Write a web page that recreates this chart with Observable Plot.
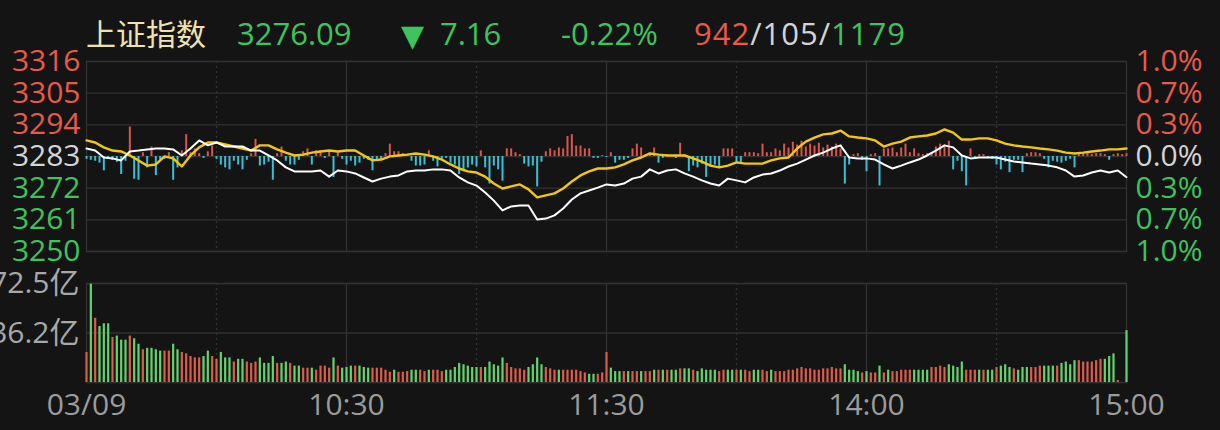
<!DOCTYPE html>
<html>
<head>
<meta charset="utf-8">
<script src="https://cdn.jsdelivr.net/npm/d3@7"></script>
<script src="https://cdn.jsdelivr.net/npm/@observablehq/plot@0.6"></script>
<style>
html,body{margin:0;padding:0;background:#141414;width:1220px;height:430px;overflow:hidden;}
#chart{position:relative;width:1220px;height:430px;}
#chart svg{display:block;position:absolute;left:0;}
</style>
</head>
<body>
<div id="chart"></div>
<script>
// ---------------- data ----------------
const indexName = "上证指数";
const lastPrice = 3276.09;
const change = -7.16;
const changePct = -0.22;
const advancers = 942;
const unchanged = 105;
const decliners = 1179;
const preClose = 3283.25;

const timeLabels = ["03/09", "10:30", "11:30", "14:00", "15:00"];
const timeLabelMinutes = [0, 60, 120, 180, 240];
const gridMinutesSolid = [60, 120, 180];
const gridMinutesDotted = [30, 90, 150, 210];

// index price, one value every 2 minutes (minute 0,2,...,240)
const price2m = [
  3286.0,3285.3,3282.9,3282.6,3281.9,3285.0,3285.3,3285.7,3286.0,3286.0,
  3285.7,3283.6,3286.0,3288.8,3287.1,3288.1,3286.7,3286.7,3286.7,3285.3,
  3285.3,3283.6,3281.9,3279.5,3278.1,3278.1,3278.1,3278.4,3276.3,3278.4,
  3278.1,3277.4,3276.0,3274.6,3275.6,3276.3,3276.7,3278.1,3278.4,3278.4,
  3278.8,3278.8,3278.4,3276.0,3274.3,3273.2,3270.8,3268.0,3264.6,3266.0,
  3266.3,3266.3,3261.5,3261.8,3262.9,3265.3,3268.4,3270.5,3271.5,3272.5,
  3273.6,3273.2,3273.9,3275.6,3276.3,3278.8,3277.4,3278.4,3278.8,3277.4,
  3276.3,3275.0,3273.9,3273.2,3275.6,3275.0,3274.3,3276.0,3277.0,3277.4,
  3278.4,3279.8,3280.8,3282.2,3283.6,3284.6,3286.0,3287.1,3282.9,3282.6,
  3282.6,3282.2,3280.5,3279.1,3280.1,3281.2,3282.2,3283.6,3285.3,3287.1,
  3286.4,3283.6,3282.6,3282.9,3282.9,3282.9,3282.2,3281.5,3281.2,3280.8,
  3280.5,3280.1,3279.5,3278.4,3276.3,3276.7,3277.7,3278.4,3277.7,3278.4,
  3276.09
];

// yellow line, one value every 2 minutes
const avg2m = [
  3288.8,3288.1,3286.4,3285.3,3285.0,3283.6,3281.9,3280.1,3280.5,3283.3,
  3282.6,3279.8,3283.6,3286.4,3288.1,3288.1,3287.4,3286.7,3286.0,3285.3,
  3287.1,3287.1,3285.7,3284.6,3283.6,3283.9,3284.6,3285.0,3285.3,3285.0,
  3285.3,3285.3,3283.6,3281.9,3282.2,3283.3,3283.6,3283.9,3284.3,3283.9,
  3283.3,3282.2,3280.5,3279.1,3278.1,3277.7,3276.3,3273.9,3272.2,3272.9,
  3273.6,3271.9,3269.1,3269.8,3270.5,3272.2,3274.6,3276.7,3278.1,3279.1,
  3279.1,3279.5,3280.5,3281.9,3282.9,3284.3,3283.9,3283.6,3283.6,3283.6,
  3282.6,3281.5,3280.1,3279.5,3280.1,3281.2,3280.8,3280.8,3280.8,3281.9,
  3282.6,3282.9,3286.0,3288.4,3289.8,3290.9,3291.2,3292.2,3290.2,3289.8,
  3289.5,3288.8,3286.7,3287.7,3288.4,3289.8,3290.2,3290.5,3291.2,3292.6,
  3291.5,3289.1,3289.1,3289.5,3289.5,3288.8,3287.7,3287.1,3286.7,3286.4,
  3286.0,3285.7,3285.3,3284.6,3284.3,3284.6,3285.0,3285.3,3285.7,3285.7,
  3286.0
];

// per-minute breadth bars in basis points of pre-close (+ red up, - cyan down)
const breadthBp = [
  -3,-4,-5,-7,-15,-3,-4,-6,-19,-5,
  31,-24,-25,4,-12,10,-20,-4,-3,4,
  -25,-12,6,23,4,8,3,-2,5,11,
  -3,-9,-12,-14,-5,-9,-14,-4,3,18,
  -10,-9,-6,-25,3,10,-5,-9,-9,-4,
  5,8,-9,6,6,-2,5,-22,5,-3,
  -9,-5,-10,-7,-3,-4,-15,-3,-4,3,
  13,5,5,3,2,-5,-10,-10,-9,6,
  -5,-11,-3,-2,-7,-9,-19,-14,-12,-9,
  -11,6,-12,-29,-10,-14,-26,8,8,4,
  2,-8,-11,-10,-32,-6,5,8,6,9,
  8,21,23,11,11,8,8,-2,-2,1,
  -1,4,-7,-4,-4,-2,8,13,9,2,
  3,9,-7,-2,2,1,-2,14,2,-16,
  -10,-12,-8,-22,-11,-9,-11,8,8,8,
  -7,-7,4,4,4,3,13,4,4,8,
  6,13,9,15,12,16,10,13,11,14,
  9,12,10,13,8,-29,-9,2,3,-4,
  -16,2,3,-31,8,8,9,4,9,13,
  4,8,3,2,3,4,10,13,11,16,
  -14,-5,-16,-31,8,-3,2,2,-2,-3,
  -9,-14,-6,-17,-4,-4,-17,3,4,4,
  3,-3,-12,-5,-6,-7,-5,-3,-12,3,
  3,3,2,3,3,2,-4,2,3,2,
  3
];

// per-minute turnover, 亿
const volumeYi = [
  22,72,47,41,43,43,33,34,31,31,
  34,32,28,24,25,25,24,23,23,23,
  28,24,22,21,19,18,18,19,23,19,
  17,22,18,18,15,17,17,15,14,15,
  18,14,14,19,14,14,15,14,12,12,
  10.5,10.5,10.5,9,12,12,10.5,18,12,10.5,
  11,12,12,12,11,10.5,10.5,10.5,10.5,9,
  7.5,9,7.5,7.5,8,9,9,9,8,9,
  9,9,8,9,9,11,14,13,12,11,
  11,11,11,15,13,12,18,14,11,10,
  10,9,11,13,18,13,11,10,9,9,
  9,9,9,9,8,7,6,6,6,7,
  22,10.5,8,8,8,8,8,8,8,8,
  8,9,9,9,9,9,9,10,10,10,
  9,8,10,9,9,9,8,9,9,9,
  9,9,9,8,9,9,9,8,9,8,
  8,8,9,9,10,11,10,10,9,9,
  10,10,11,10,10,13,9,9,8,7,
  8,7,7,12,7,9,8,8,9,9,
  9,9,9,9,9,11,11,12,11,13,
  12,11,15,9,9,9,9,9,9,9,
  11,12,13,11,10,9,11,11,11,11,
  12,12,12,12,12,14,15,13,16,16,
  15,15,15,16,17,17,19,21,1.5,0,
  38
];

// per-minute direction: r = up minute, g = down minute
const volumeDirection = (
  "rgrgggrggg" + "rggrggggrr" + "ggrrrrrggr" + "rgggrggrrr" + "ggggrggrgg" +
  "rrgrrrrgrg" + "ggrgggrrrr" + "rgrrrggrrg" + "rrrggggggg" + "grgggggrrr" +
  "rrggggrrrg" + "rrrrrrggrr" + "rgggrgrrgr" + "rgrgrggrgg" + "rgggggrrgg" +
  "rgrrggrrgr" + "rrrrrrrrrr" + "rrrrrggggr" + "grrgrgrrrr" + "rggggrrrrg" +
  "gggrrrgrgg" + "rgggrgggrr" + "rgggrggggr" + "rrrrrgggrr" + "g"
).split("");

const volumeMax = 72.5;

// ---------------- styles ----------------
const gridC = "#313131";
const upText = "#e85a4a";
const downText = "#3dc45c";
const flatText = "#d4d4d4";
const axisGrey = "#9c9c9c";
const font = "'Open Sans','Noto Sans CJK SC',sans-serif";

const chart = document.getElementById("chart");

// ---------------- price pane ----------------
const lineData = price2m.map((p, k) => ({t: k * 2, price: p, avg: avg2m[k]}));
const barData = breadthBp.map((b, i) => ({t: i, b}));
const yLo = preClose * 0.99, yHi = preClose * 1.01;
const steps = d3.range(-3, 4);
const priceTicks = steps.map(k => ({k, v: preClose * (1 + k / 300)}));
const tickColor = k => k > 0 ? upText : k < 0 ? downText : flatText;

const priceMarks = [
  Plot.ruleY(priceTicks, {y: "v", stroke: gridC, strokeWidth: 1.3}),
  Plot.ruleX(gridMinutesSolid, {stroke: gridC, strokeWidth: 1.3}),
  Plot.ruleX(gridMinutesDotted, {stroke: gridC, strokeWidth: 1.3, strokeDasharray: "2,3"}),
  Plot.frame({stroke: gridC, strokeWidth: 1.3}),
  Plot.ruleX(barData.filter(d => d.b > 0), {x: "t", y1: preClose, y2: d => preClose * (1 + d.b / 10000), stroke: "#d9564b", strokeWidth: 2}),
  Plot.ruleX(barData.filter(d => d.b < 0), {x: "t", y1: preClose, y2: d => preClose * (1 + d.b / 10000), stroke: "#3bbfd4", strokeWidth: 2}),
  Plot.line(lineData, {x: "t", y: "avg", stroke: "#f2c614", strokeWidth: 2.4}),
  Plot.line(lineData, {x: "t", y: "price", stroke: "#ffffff", strokeWidth: 2})
];
for (const sign of [1, 0, -1]) {
  const sub = priceTicks.filter(d => Math.sign(d.k) === sign);
  priceMarks.push(Plot.text(sub, {y: "v", text: d => String(Math.round(d.v)), frameAnchor: "left", dx: -6, textAnchor: "end", fill: tickColor(sign), fontSize: 30}));
  priceMarks.push(Plot.text(sub, {y: "v", text: d => (Math.abs(d.k) / 3).toFixed(1) + "%", frameAnchor: "right", dx: 9, textAnchor: "start", fill: tickColor(sign), fontSize: 30}));
}

const pricePlot = Plot.plot({
  width: 1220, height: 240,
  marginLeft: 86, marginRight: 94, marginTop: 21, marginBottom: 29,
  style: {background: "transparent", fontFamily: font, overflow: "visible"},
  x: {domain: [0, 240], axis: null},
  y: {domain: [yLo, yHi], axis: null},
  marks: priceMarks
});
pricePlot.style.top = "40px";
chart.appendChild(pricePlot);

// ---------------- volume pane ----------------
const volData = volumeYi.map((v, i) => ({t: i, v, up: volumeDirection[i] === "r"}));
const volTicks = [volumeMax, volumeMax / 2];

const volPlot = Plot.plot({
  width: 1220, height: 168,
  marginLeft: 86, marginRight: 94, marginTop: 21, marginBottom: 48,
  style: {background: "transparent", fontFamily: font, overflow: "visible"},
  x: {domain: [0, 240], axis: null},
  y: {domain: [0, volumeMax], axis: null},
  marks: [
    Plot.ruleY([0, volumeMax / 2, volumeMax], {stroke: gridC, strokeWidth: 1.3}),
    Plot.ruleX(gridMinutesSolid, {stroke: gridC, strokeWidth: 1.3}),
    Plot.ruleX(gridMinutesDotted, {stroke: gridC, strokeWidth: 1.3, strokeDasharray: "2,3"}),
    Plot.frame({stroke: gridC, strokeWidth: 1.3}),
    Plot.ruleX(volData.filter(d => d.up), {x: "t", y1: 0, y2: "v", stroke: "#db5c48", strokeWidth: 2.2}),
    Plot.ruleX(volData.filter(d => !d.up), {x: "t", y1: 0, y2: "v", stroke: "#60d56b", strokeWidth: 2.2}),
    Plot.text(volTicks, {y: d => d, text: d => (Math.floor(d * 10) / 10).toFixed(1) + "亿", frameAnchor: "left", dx: -7, textAnchor: "end", fill: "#a8a8a8", fontSize: 30}),
    Plot.text(timeLabelMinutes, {x: d => d, text: (d, i) => timeLabels[i], frameAnchor: "bottom", dy: 32, fill: axisGrey, fontSize: 30})
  ]
});
volPlot.style.top = "262px";
chart.appendChild(volPlot);

// ---------------- header (drawn last, on top) ----------------
const header = d3.create("svg").attr("width", 1220).attr("height", 60).style("top", "0px");
function htext(x, y, str, fill, family, size) {
  return header.append("text").attr("x", x).attr("y", y).attr("fill", fill)
    .attr("font-size", size || 31).attr("font-family", family || font).text(str);
}
htext(86, 45, indexName, "#eee3b0", "'Noto Sans CJK SC',sans-serif", 30);
htext(237, 45, lastPrice.toFixed(2), downText);
htext(401, 46, "▼", downText, "'DejaVu Sans',sans-serif", 30);
htext(440, 45, Math.abs(change).toFixed(2), downText);
htext(561, 45, changePct.toFixed(2) + "%", downText);
const breadthText = header.append("text").attr("x", 694).attr("y", 45)
  .attr("font-size", 31).attr("font-family", font).attr("letter-spacing", "1");
breadthText.append("tspan").attr("fill", upText).text(String(advancers));
breadthText.append("tspan").attr("fill", flatText).text("/" + unchanged + "/");
breadthText.append("tspan").attr("fill", downText).text(String(decliners));
chart.appendChild(header.node());
</script>
</body>
</html>
